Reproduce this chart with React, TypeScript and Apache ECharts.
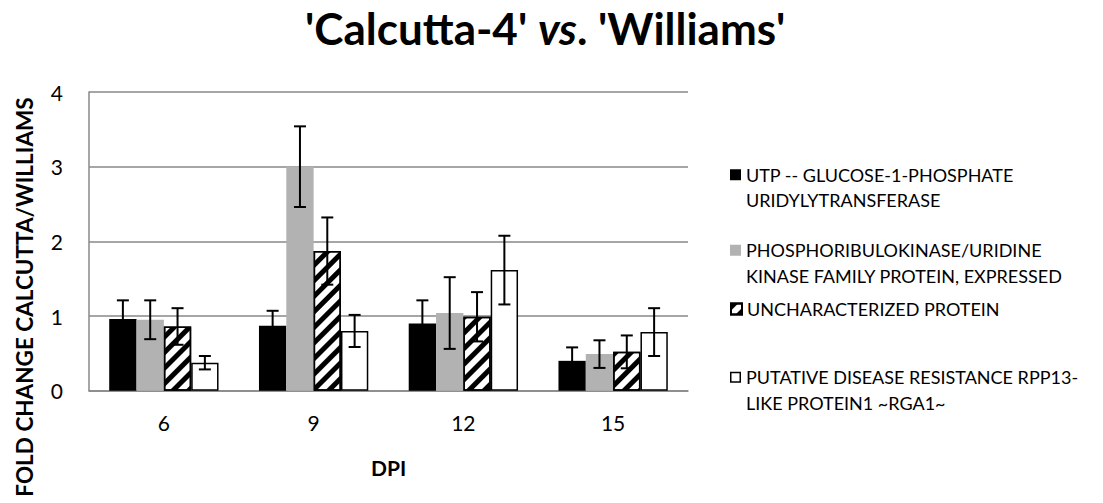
import React, { useEffect, useRef } from "react";
import * as echarts from "echarts";

const categories = ["6", "9", "12", "15"];
const seriesNames = [
  "UTP -- GLUCOSE-1-PHOSPHATE URIDYLYTRANSFERASE",
  "PHOSPHORIBULOKINASE/URIDINE KINASE FAMILY PROTEIN, EXPRESSED",
  "UNCHARACTERIZED PROTEIN",
  "PUTATIVE DISEASE RESISTANCE RPP13-LIKE PROTEIN1 ~RGA1~",
];
const legendLines = [
  ["UTP -- GLUCOSE-1-PHOSPHATE", "URIDYLYTRANSFERASE"],
  ["PHOSPHORIBULOKINASE/URIDINE", "KINASE FAMILY PROTEIN, EXPRESSED"],
  ["UNCHARACTERIZED PROTEIN"],
  ["PUTATIVE DISEASE RESISTANCE RPP13-", "LIKE PROTEIN1 ~RGA1~"],
];
const utpValues = [0.96, 0.87, 0.9, 0.4];
const utpErrors = [0.25, 0.2, 0.31, 0.18];
const prkValues = [0.95, 3.0, 1.04, 0.49];
const prkErrors = [0.26, 0.54, 0.48, 0.185];
const uncValues = [0.86, 1.87, 0.99, 0.52];
const uncErrors = [0.245, 0.45, 0.33, 0.22];
const rgaValues = [0.375, 0.8, 1.615, 0.785];
const rgaErrors = [0.09, 0.215, 0.46, 0.32];
const yTicks = [0, 1, 2, 3, 4];

const FONT = "Lato, 'Open Sans', sans-serif";
const CAT_GAP = 0.27;

export default function App() {
  const ref = useRef<HTMLDivElement>(null);
  useEffect(() => {
    if (!ref.current) return;
    const chart = echarts.init(ref.current, undefined, { renderer: "svg" });
    const values = [utpValues, prkValues, uncValues, rgaValues];
    const errors = [utpErrors, prkErrors, uncErrors, rgaErrors];
    const styles: any[] = [
      { color: "#000000" },
      { color: "#b2b2b2" },
      {
        color: "#ffffff",
        borderColor: "#000000",
        borderWidth: 1.5,
        decal: {
          symbol: "rect",
          symbolSize: 1,
          color: "#000000",
          dashArrayX: [1, 0],
          dashArrayY: [5, 6],
          rotation: -Math.PI / 4,
        },
      },
      { color: "#ffffff", borderColor: "#000000", borderWidth: 1.5 },
    ];

    const barSeries = values.map((v, i) => ({
      name: seriesNames[i],
      type: "bar",
      data: v,
      barGap: "0%",
      barCategoryGap: `${CAT_GAP * 100}%`,
      itemStyle: styles[i],
      z: 2,
    }));

    const errSeries = values.map((v, i) => ({
      name: seriesNames[i] + " error",
      type: "custom",
      z: 5,
      data: v.map((val, k) => [k, val - errors[i][k], val + errors[i][k]]),
      encode: { x: 0, y: [1, 2] },
      renderItem: (params: any, api: any) => {
        const xi = api.value(0);
        const lo = api.coord([xi, api.value(1)]);
        const hi = api.coord([xi, api.value(2)]);
        const catW = api.size([1, 0])[0];
        const barW = (catW * (1 - CAT_GAP)) / 4;
        const x = lo[0] + (i - 1.5) * barW;
        const cap = 6;
        const st = { stroke: "#000", lineWidth: 2 };
        return {
          type: "group",
          children: [
            { type: "line", shape: { x1: x, y1: lo[1], x2: x, y2: hi[1] }, style: st },
            { type: "line", shape: { x1: x - cap, y1: hi[1], x2: x + cap, y2: hi[1] }, style: st },
            { type: "line", shape: { x1: x - cap, y1: lo[1], x2: x + cap, y2: lo[1] }, style: st },
          ],
        };
      },
    }));

    const legendTops = [161.75, 237.25, 296.25, 364.25];
    const legends = seriesNames.map((name, i) => {
      const two = legendLines[i].length > 1;
      const outline = i === 3;
      const icon = outline
        ? "path://M0,0H11V11H0Z M1.5,1.5V9.5H9.5V1.5Z M0,36H0.01V36.01H0Z"
        : two
        ? "path://M0,0H11V11H0Z M0,36H0.01V36.01H0Z"
        : "rect";
      return {
        data: [
          outline
            ? { name, itemStyle: { color: "#000000", borderWidth: 0 } }
            : { name },
        ],
        orient: "vertical",
        left: 730,
        top: legendTops[i],
        padding: 0,
        itemWidth: 11,
        itemHeight: two ? 36 : 11,
        icon,
        selectedMode: false,
        formatter: () => legendLines[i].join("\n"),
        textStyle: {
          fontFamily: FONT,
          fontSize: 18,
          color: "#000",
          lineHeight: 25.5,
        },
      };
    });

    chart.setOption({
      animation: false,
      backgroundColor: "#ffffff",
      title: {
        left: 300,
        top: 1,
        text: "{a|'Calcutta-4' }{b|vs}{a|. 'Williams'}",
        textStyle: {
          rich: {
            a: { fontFamily: FONT, fontWeight: "bold", fontSize: 44, color: "#000" },
            b: { fontFamily: FONT, fontWeight: "bold", fontStyle: "italic", fontSize: 44, color: "#000" },
          },
        },
      },
      legend: legends,
      grid: { left: 89, right: 415, top: 92, bottom: 112.3, containLabel: false },
      xAxis: {
        type: "category",
        data: categories,
        name: "DPI",
        nameLocation: "middle",
        nameGap: 66,
        nameTextStyle: { fontFamily: FONT, fontWeight: "bold", fontSize: 21, color: "#000" },
        axisTick: { show: false },
        axisLine: { lineStyle: { color: "#888", width: 1.5 } },
        axisLabel: { fontFamily: FONT, fontSize: 21, color: "#000", margin: 21 },
      },
      yAxis: {
        type: "value",
        min: yTicks[0],
        max: yTicks[yTicks.length - 1],
        interval: 1,
        axisLine: { show: true, lineStyle: { color: "#888", width: 1.5 } },
        axisTick: { show: false },
        splitLine: { lineStyle: { color: "#888", width: 1.5 } },
        axisLabel: { fontFamily: FONT, fontSize: 21, color: "#000", margin: 26 },
      },
      graphic: [
        {
          type: "text",
          x: 24,
          y: 297,
          rotation: Math.PI / 2,
          style: {
            text: "FOLD CHANGE CALCUTTA/WILLIAMS",
            fontFamily: FONT,
            fontWeight: "bold",
            fontSize: 22.5,
            fill: "#000",
            align: "center",
            verticalAlign: "middle",
          },
        },
      ],
      series: [...barSeries, ...errSeries],
    });
    return () => chart.dispose();
  }, []);
  return (
    <div
      ref={ref}
      style={{ position: "fixed", left: 0, top: 0, width: 1103, height: 503 }}
    />
  );
}
